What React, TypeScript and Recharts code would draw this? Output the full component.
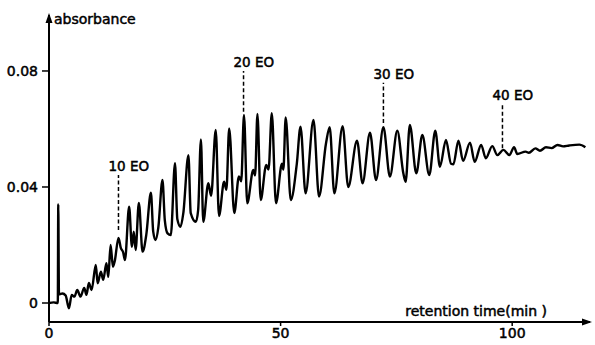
import React from 'react';
import { LineChart, Line, XAxis, YAxis, ReferenceLine, ReferenceDot } from 'recharts';

// trace: [retention time (min), absorbance]
const injection: [number, number][] = [
  [0, 0], [1.0, 0.0002], [1.9, 0], [2.0, 0.034], [2.15, 0.003], [2.9, 0.0033], [3.6, 0.0026],
  [4.3, -0.0018], [4.9, 0.0028], [5.5, 0.0022], [6.1, 0.0045], [6.8, 0.0022], [7.6, 0.0052],
  [8.1, 0.0028], [8.6, 0.0069], [9.2, 0.0045],
];
const earlyPeaks: [number, number][] = [
  [10.1, 0.0131], [10.5, 0.0068], [11.2, 0.0108], [11.7, 0.008], [12.4, 0.0137], [12.8, 0.009],
  [13.3, 0.02], [13.8, 0.0125], [14.2, 0.0145], [15.0, 0.0224], [15.5, 0.019], [16.0, 0.0175],
  [16.4, 0.0148], [17.3, 0.0332], [17.9, 0.0194], [18.3, 0.0246], [18.7, 0.0183], [19.4, 0.0345],
  [20.2, 0.0177], [21.0, 0.0235], [22.0, 0.038], [22.5, 0.0246], [23.0, 0.0217], [23.6, 0.026],
  [24.5, 0.0424], [25.0, 0.0286], [25.6, 0.024], [26.3, 0.0234], [27.2, 0.0482], [27.7, 0.029],
  [28.4, 0.0263], [29.0, 0.031], [30.1, 0.051], [30.6, 0.031], [31.7, 0.028], [32.2, 0.032],
];
const middlePeaks: [number, number][] = [
  [32.8, 0.0564], [33.3, 0.028], [34.4, 0.0413], [35.0, 0.037], [36.0, 0.0597], [36.7, 0.03],
  [37.8, 0.0418], [38.3, 0.039], [38.9, 0.0602], [40.0, 0.031], [41.0, 0.0436], [41.5, 0.042],
  [42.1, 0.0648], [42.8, 0.0344], [44.1, 0.0459], [44.5, 0.044], [45.0, 0.0652], [45.7, 0.0355],
  [46.9, 0.0476], [47.4, 0.046], [48.1, 0.0654], [49.0, 0.0344], [50.3, 0.048], [50.6, 0.046],
  [51.1, 0.064], [52.2, 0.0355], [53.5, 0.048], [54.3, 0.0608], [55.4, 0.0378], [57.1, 0.0631],
  [58.3, 0.0367], [59.8, 0.055], [60.6, 0.0606], [61.6, 0.0378], [63.4, 0.061], [64.6, 0.04],
];
const latePeaks: [number, number][] = [
  [66.5, 0.056], [67.7, 0.0413], [69.3, 0.0587], [70.6, 0.0424], [72.2, 0.0606], [73.6, 0.0436],
  [75.2, 0.0594], [76.5, 0.0447], [77.0, 0.0418], [77.9, 0.0614], [79.3, 0.0447], [80.6, 0.0579],
  [82.1, 0.0441], [83.4, 0.0594], [84.4, 0.047], [85.7, 0.0562], [86.8, 0.048], [87.3, 0.0478],
  [88.4, 0.056], [89.4, 0.049], [90.9, 0.0553], [91.9, 0.0487], [93.3, 0.0545], [94.3, 0.0499],
  [95.7, 0.0541], [96.8, 0.051], [98.1, 0.0528], [99.4, 0.051], [100.4, 0.0537], [101.1, 0.0514],
  [102.9, 0.0522], [103.6, 0.0518], [105.0, 0.0533], [106.0, 0.0525], [107.3, 0.0537],
  [108.5, 0.0534], [109.8, 0.0545], [111.0, 0.054], [112.3, 0.0543], [114.5, 0.0546], [115.8, 0.0537],
];

const xTicks = [0, 50, 100];
const yTicks = [0, 0.04, 0.08];

// oligomer markers
const eoNames = ['10 EO', '20 EO', '30 EO', '40 EO'];
const eoTimes = [15.0, 42.0, 72.2, 97.9];
const eoTop = [0.0441, 0.08, 0.0759, 0.0686];
const eoBottom = [0.0252, 0.0659, 0.0621, 0.0534];

const data = [...injection, ...earlyPeaks, ...middlePeaks, ...latePeaks].map(([t, a]) => ({ t, a }));

const font = "'DejaVu Sans', sans-serif";
// scanned lettering is heavy, thicken it a bit
const textStyle = { fill: '#000', stroke: '#000', strokeWidth: 0.5, fontSize: 14, fontFamily: font };

const XTitle = (props: any) => {
  const { x, y, width } = props.viewBox;
  return (
    <g>
      <text x={x + width - 43} y={y - 6} textAnchor="end" {...textStyle}>retention time(min )</text>
      <path d={`M${x + width + 2} ${y} l-10 -3.5 v7 z`} fill="#000" />
    </g>
  );
};

const YTitle = (props: any) => {
  const { x, y, width } = props.viewBox;
  return (
    <g>
      <text x={x + width + 5} y={y + 9} {...textStyle}>absorbance</text>
      <path d={`M${x + width} ${y - 2} l-3.5 10 h7 z`} fill="#000" />
    </g>
  );
};

const eoLabel = (name: string) => (props: any) => {
  const { x, y } = props.viewBox;
  return <text x={x - 10} y={y - 4} {...textStyle} fontSize={13.5}>{name}</text>;
};

export default function App() {
  return (
    <div style={{ position: 'absolute', left: 0, top: 0, background: '#fff' }}>
      <LineChart width={595} height={345} data={data} margin={{ top: 15, right: 5, bottom: 0, left: 0 }}>
        <XAxis
          dataKey="t"
          type="number"
          domain={[0, 116.8]}
          ticks={xTicks}
          allowDataOverflow
          height={23}
          axisLine={{ stroke: '#000', strokeWidth: 2 }}
          tickLine={{ stroke: '#000', strokeWidth: 1.5 }}
          tickSize={4}
          tick={textStyle}
          label={XTitle}
        />
        <YAxis
          type="number"
          domain={[-0.00655, 0.0993]}
          ticks={yTicks}
          allowDataOverflow
          width={49}
          axisLine={{ stroke: '#000', strokeWidth: 2 }}
          tickLine={{ stroke: '#000', strokeWidth: 1.5 }}
          tickSize={7}
          tickMargin={4}
          tick={textStyle}
          tickFormatter={(v: number) => (v === 0 ? '0' : v.toFixed(2))}
          label={YTitle}
        />
        <Line dataKey="a" type="monotone" stroke="#000" strokeWidth={2.4} dot={false} isAnimationActive={false} />
        {eoTimes.map((t, i) => (
          <ReferenceLine
            key={`l${i}`}
            segment={[{ x: t, y: eoBottom[i] }, { x: t, y: eoTop[i] }]}
            stroke="#000"
            strokeWidth={1.5}
            strokeDasharray="4 2.5"
          />
        ))}
        {eoTimes.map((t, i) => (
          <ReferenceDot key={`d${i}`} x={t} y={eoTop[i]} r={0} stroke="none" fill="none" label={eoLabel(eoNames[i])} />
        ))}
      </LineChart>
    </div>
  );
}
